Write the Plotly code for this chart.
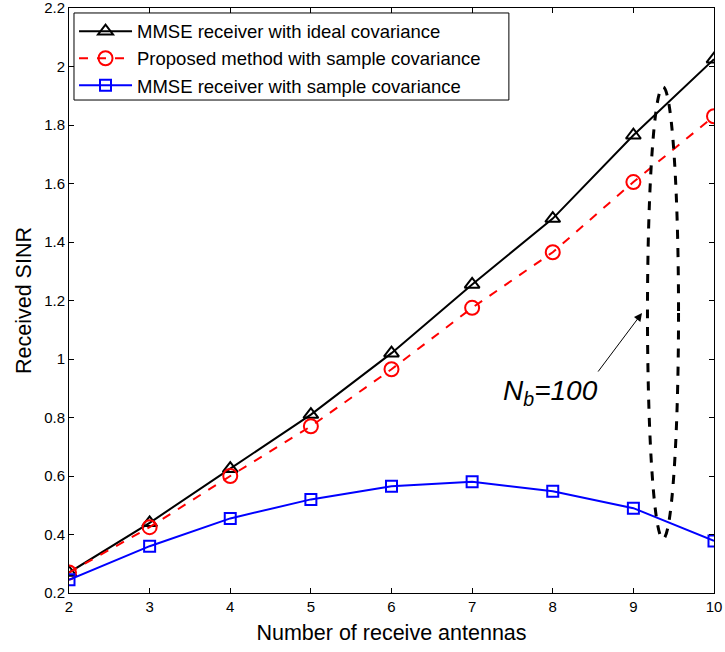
import plotly.graph_objects as go

# ---- data ----
antennas = [2, 3, 4, 5, 6, 7, 8, 9, 10]
mmse_ideal = [0.27, 0.44, 0.625, 0.81, 1.02, 1.255, 1.48, 1.765, 2.025]
proposed_sample = [0.27, 0.425, 0.60, 0.77, 0.965, 1.175, 1.365, 1.605, 1.83]
mmse_sample = [0.245, 0.36, 0.455, 0.52, 0.565, 0.58, 0.548, 0.49, 0.378]

series_names = [
    "MMSE receiver with ideal covariance",
    "Proposed method with sample covariance",
    "MMSE receiver with sample covariance",
]

x_ticks = [2, 3, 4, 5, 6, 7, 8, 9, 10]
y_ticks = [0.2, 0.4, 0.6, 0.8, 1.0, 1.2, 1.4, 1.6, 1.8, 2.0, 2.2]
y_tick_labels = ["0.2", "0.4", "0.6", "0.8", "1", "1.2", "1.4", "1.6", "1.8", "2", "2.2"]

# annotation (ellipse around the curves at N=9..10, arrow, label)
ellipse_x = [9.175, 9.56]
ellipse_y = [0.385, 1.93]
arrow_head = [9.107, 1.157]
arrow_tail = [8.549, 0.952]
label_pos = [7.36, 0.885]
label_text = "<i>N<sub>b</sub>=100</i>"

# legend frame (paper coordinates)
legend_box_x = [0.00775, 0.682]
legend_box_y = [0.8427, 0.9915]

FONT = "Liberation Sans, Arial, Helvetica, sans-serif"

fig = go.Figure()

fig.add_trace(go.Scatter(
    x=antennas, y=mmse_ideal, name=series_names[0], mode="lines+markers",
    line=dict(color="#000000", width=2),
    marker=dict(symbol="triangle-up-open", size=13, color="#000000",
                line=dict(width=2, color="#000000")),
))
fig.add_trace(go.Scatter(
    x=antennas, y=proposed_sample, name=series_names[1], mode="lines+markers",
    line=dict(color="#FF0000", width=2, dash="dash"),
    marker=dict(symbol="circle-open", size=14, color="#FF0000",
                line=dict(width=2, color="#FF0000")),
))
fig.add_trace(go.Scatter(
    x=antennas, y=mmse_sample, name=series_names[2], mode="lines+markers",
    line=dict(color="#0000FF", width=2),
    marker=dict(symbol="square-open", size=11, color="#0000FF",
                line=dict(width=2, color="#0000FF")),
))

fig.add_shape(type="circle", xref="x", yref="y",
              x0=ellipse_x[0], x1=ellipse_x[1], y0=ellipse_y[0], y1=ellipse_y[1],
              line=dict(color="#000000", width=3, dash="dash"))

fig.add_shape(type="rect", xref="paper", yref="paper", layer="above",
              x0=legend_box_x[0], x1=legend_box_x[1],
              y0=legend_box_y[0], y1=legend_box_y[1],
              fillcolor="#FFFFFF", line=dict(color="#000000", width=1))

fig.add_annotation(x=arrow_head[0], y=arrow_head[1], ax=arrow_tail[0], ay=arrow_tail[1],
                   xref="x", yref="y", axref="x", ayref="y", text="",
                   showarrow=True, arrowhead=2, arrowsize=1.6, arrowwidth=1,
                   arrowcolor="#000000")
fig.add_annotation(x=label_pos[0], y=label_pos[1], xref="x", yref="y",
                   text=label_text, showarrow=False, xanchor="left", yanchor="middle",
                   font=dict(family=FONT, size=28, color="#000000"))

axis_common = dict(
    showline=True, linecolor="#000000", linewidth=1, mirror="ticks",
    ticks="inside", ticklen=5, tickcolor="#000000", tickwidth=1,
    showgrid=False, zeroline=False, automargin=False,
    ticklabeloverflow="allow",
    tickfont=dict(family=FONT, size=15, color="#000000"),
)

fig.update_layout(
    width=725, height=652,
    margin=dict(l=69, r=11, t=8, b=59, autoexpand=False),
    paper_bgcolor="#FFFFFF", plot_bgcolor="#FFFFFF",
    font=dict(family=FONT, color="#000000"),
    xaxis=dict(range=[2, 10], tickvals=x_ticks,
               title=dict(text="Number of receive antennas", standoff=10,
                          font=dict(family=FONT, size=21.5, color="#000000")),
               **axis_common),
    yaxis=dict(range=[0.2, 2.2], tickvals=y_ticks, ticktext=y_tick_labels,
               title=dict(text="Received SINR", standoff=6,
                          font=dict(family=FONT, size=21.5, color="#000000")),
               **axis_common),
    legend=dict(x=0.0078, y=0.992, xanchor="left", yanchor="top",
                bgcolor="rgba(0,0,0,0)", borderwidth=0,
                font=dict(family=FONT, size=18.5, color="#000000"),
                itemwidth=53, tracegroupgap=0),
    showlegend=True,
)

fig.write_html("out.html",
               config={"displayModeBar": False},
               post_script="document.body.style.margin='0';document.body.style.padding='0';")
